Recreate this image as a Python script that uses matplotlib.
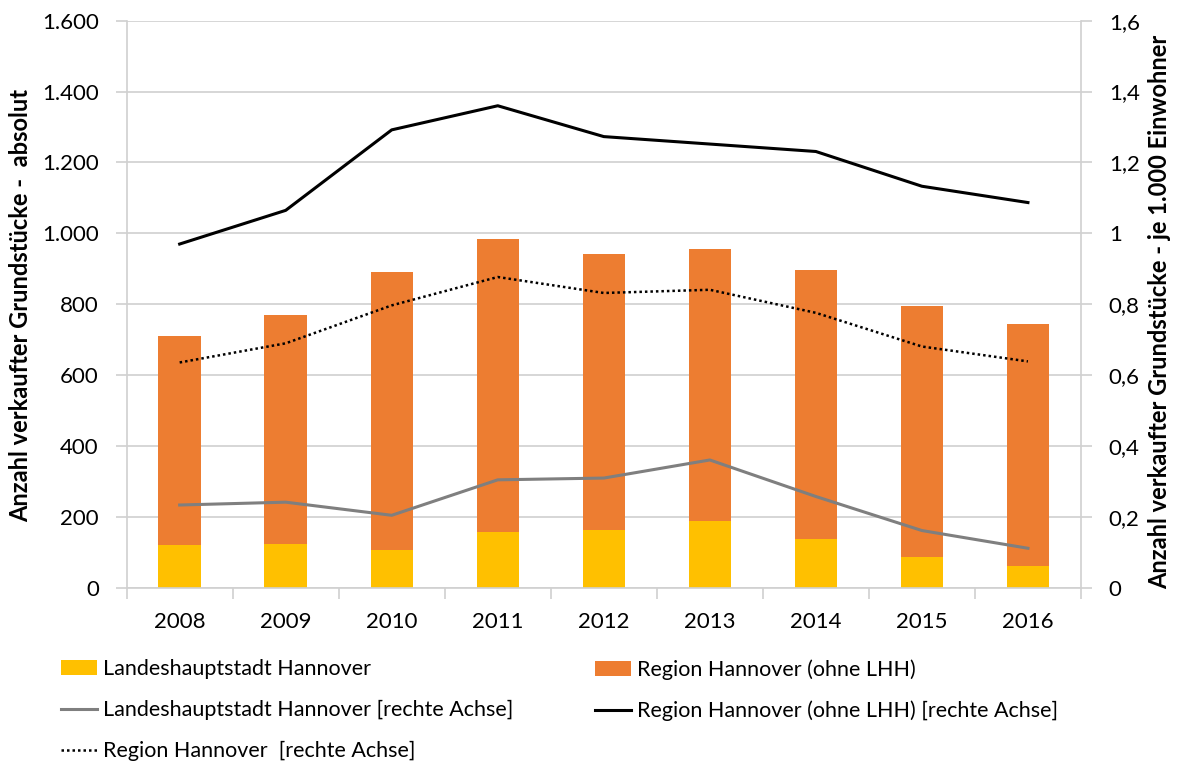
import numpy as np
import matplotlib.pyplot as plt
from matplotlib.ticker import FuncFormatter, FixedLocator

plt.rcParams['font.family'] = ['Lato', 'DejaVu Sans']

years = ['2008', '2009', '2010', '2011', '2012', '2013', '2014', '2015', '2016']
# absolute counts (left axis)
lhh_abs = [120, 125, 107, 159, 164, 190, 138, 87, 63]
total_abs = [712, 770, 891, 985, 941, 957, 896, 794, 745]
region_abs = [t - l for t, l in zip(total_abs, lhh_abs)]
# per 1.000 inhabitants (right axis)
lhh_rel = [0.234, 0.242, 0.205, 0.305, 0.310, 0.361, 0.258, 0.162, 0.112]
region_ohne_rel = [0.970, 1.065, 1.292, 1.360, 1.273, 1.252, 1.231, 1.133, 1.087]
region_rel = [0.636, 0.690, 0.797, 0.877, 0.832, 0.841, 0.776, 0.681, 0.639]

YELLOW = '#FFC000'
ORANGE = '#ED7D31'
GRID = '#D0D0D0'
FS = 16

fig = plt.figure(figsize=(11.77, 7.65), dpi=100)
ax = fig.add_axes([0.1076, 0.2314, 0.8108, 0.7416])
x = np.arange(len(years))

b1 = ax.bar(x, lhh_abs, width=0.4, color=YELLOW, zorder=2)
b2 = ax.bar(x, region_abs, width=0.4, bottom=lhh_abs, color=ORANGE, zorder=2)

ax.set_xlim(-0.5, len(years) - 0.5)
ax.set_ylim(0, 1600)
ax.set_yticks(np.arange(0, 1601, 200))
ax.yaxis.set_major_formatter(FuncFormatter(lambda v, p: f'{int(v):,}'.replace(',', '.')))
ax.grid(axis='y', color=GRID, linewidth=1.2, zorder=0)
ax.set_axisbelow(True)

ax.set_xticks(x)
ax.set_xticklabels(years)
ax.xaxis.set_minor_locator(FixedLocator(np.arange(-0.5, len(years), 1.0)))
ax.tick_params(axis='x', which='major', length=0, pad=17, labelsize=FS)
ax.tick_params(axis='x', which='minor', length=8, color=GRID, width=1.2, direction='out')
ax.tick_params(axis='y', length=8, width=1.2, color=GRID, pad=12, labelsize=FS)

for side in ['left', 'bottom', 'right']:
    ax.spines[side].set_color(GRID)
    ax.spines[side].set_linewidth(1.2)
ax.spines['top'].set_visible(False)

ax2 = ax.twinx()
ax2.set_ylim(0, 1.6)
ax2.set_yticks(np.arange(0, 1.61, 0.2))
ax2.yaxis.set_major_formatter(FuncFormatter(lambda v, p: f'{v:g}'.replace('.', ',')))
ax2.tick_params(axis='y', length=8, width=1.2, color=GRID, pad=12, labelsize=FS)
for side in ['left', 'bottom', 'right', 'top']:
    ax2.spines[side].set_visible(False)

fig.text(21 / 1177, 1 - 306 / 765, 'Anzahl verkaufter Grundstücke -  absolut',
         rotation=90, ha='center', va='center', fontsize=17, fontweight='bold')
fig.text(1160 / 1177, 1 - 312 / 765, 'Anzahl verkaufter Grundstücke - je 1.000 Einwohner',
         rotation=90, ha='center', va='center', fontsize=17, fontweight='bold')

l1, = ax2.plot(x, lhh_rel, color='#7F7F7F', linewidth=2.2, zorder=3)
l2, = ax2.plot(x, region_ohne_rel, color='black', linewidth=2.2, zorder=3)
l3, = ax2.plot(x, region_rel, color='black', linewidth=1.8, linestyle=(0, (1, 1.2)), zorder=3)

leg_kw = dict(loc='upper left', frameon=False, fontsize=15.5, handlelength=1.65,
              handletextpad=0.3, labelspacing=0.98, borderpad=0, borderaxespad=0)
fig.legend([b1, l1, l3],
           ['Landeshauptstadt Hannover',
            'Landeshauptstadt Hannover [rechte Achse]',
            'Region Hannover  [rechte Achse]'],
           bbox_to_anchor=(61 / 1177, 1 - 659 / 765), **leg_kw)
fig.legend([b2, l2],
           ['Region Hannover (ohne LHH)',
            'Region Hannover (ohne LHH) [rechte Achse]'],
           bbox_to_anchor=(595 / 1177, 1 - 659 / 765), **leg_kw)

fig.savefig('out.png', dpi=100)
